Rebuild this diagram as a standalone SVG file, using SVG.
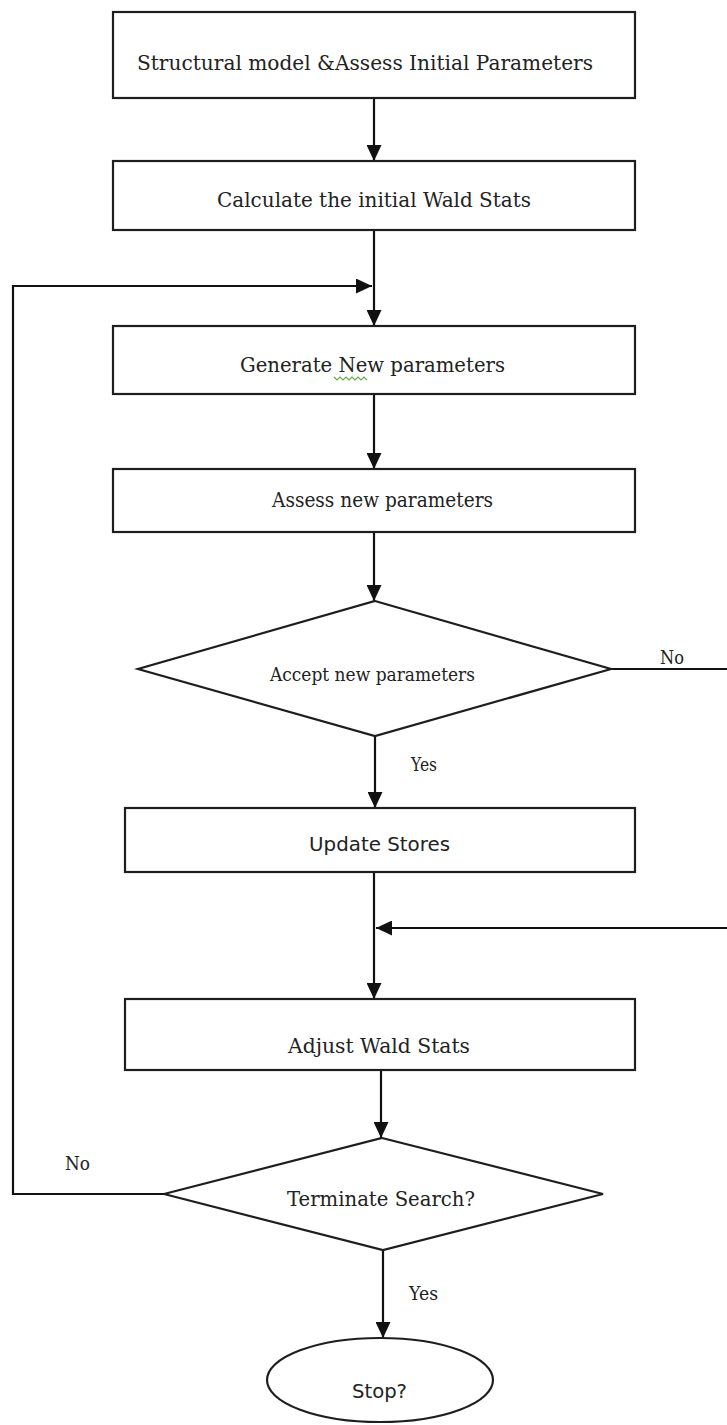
<svg xmlns="http://www.w3.org/2000/svg" width="727" height="1425" viewBox="0 0 727 1425">
<defs>
<style>
.box{fill:#fff;stroke:#1e1e1e;stroke-width:2.2}
.edge{fill:none;stroke:#111;stroke-width:2.2}
.t{font-family:"DejaVu Serif","Liberation Serif",serif;font-size:21px;fill:#222}
.s{font-family:"DejaVu Serif","Liberation Serif",serif;font-size:19px;fill:#222}
.u{font-family:"DejaVu Sans","Liberation Sans",sans-serif;font-size:20px;fill:#222}
</style>
<marker id="ah" viewBox="0 0 16 15" refX="16" refY="7.5" markerWidth="16" markerHeight="15" markerUnits="userSpaceOnUse" orient="auto">
<path d="M0,0 L16,7.5 L0,15 Z" fill="#111"/>
</marker>
</defs>
<rect width="727" height="1425" fill="#fff"/>
<g id="connectors">
<line class="edge" x1="374" y1="98" x2="374" y2="161" marker-end="url(#ah)"/>
<line class="edge" x1="374" y1="230" x2="374" y2="326" marker-end="url(#ah)"/>
<path class="edge" d="M164,1194 H13 V286 H372" marker-end="url(#ah)"/>
<line class="edge" x1="374" y1="394" x2="374" y2="469" marker-end="url(#ah)"/>
<line class="edge" x1="374" y1="532" x2="374" y2="601" marker-end="url(#ah)"/>
<path class="edge" d="M611,669 H745 V928 H376" marker-end="url(#ah)"/>
<line class="edge" x1="375" y1="736" x2="375" y2="808" marker-end="url(#ah)"/>
<line class="edge" x1="374" y1="872" x2="374" y2="999" marker-end="url(#ah)"/>
<line class="edge" x1="381" y1="1070" x2="381" y2="1138" marker-end="url(#ah)"/>
<line class="edge" x1="383" y1="1250" x2="383" y2="1338" marker-end="url(#ah)"/>
<text class="s" x="660" y="664" textLength="24" lengthAdjust="spacingAndGlyphs">No</text>
<text class="s" x="411" y="771" textLength="26" lengthAdjust="spacingAndGlyphs">Yes</text>
<text class="s" x="65" y="1170" textLength="25" lengthAdjust="spacingAndGlyphs">No</text>
<text class="s" x="409" y="1300" textLength="29" lengthAdjust="spacingAndGlyphs">Yes</text>
</g>
<g id="n1">
<rect class="box" x="113" y="12" width="522" height="86"/>
<text class="t" x="137" y="70" textLength="456" lengthAdjust="spacingAndGlyphs">Structural model  &amp;Assess Initial  Parameters</text>
</g>
<g id="n2">
<rect class="box" x="113" y="161" width="522" height="69"/>
<text class="t" x="217" y="207" textLength="314" lengthAdjust="spacingAndGlyphs">Calculate the initial Wald Stats</text>
</g>
<g id="n3">
<rect class="box" x="113" y="326" width="522" height="68"/>
<text class="t" x="240" y="372" textLength="265" lengthAdjust="spacingAndGlyphs">Generate New parameters</text>
<path d="M334,377 l3,3 l3,-3 l3,3 l3,-3 l3,3 l3,-3 l3,3 l3,-3 l3,3 l3,-3 l3,3" fill="none" stroke="#6aa84f" stroke-width="1.2"/>
</g>
<g id="n4">
<rect class="box" x="113" y="469" width="522" height="63"/>
<text class="t" x="272" y="507" textLength="221" lengthAdjust="spacingAndGlyphs">Assess new parameters</text>
</g>
<g id="n5">
<polygon class="box" points="375,601 611,669 375,736 138,669"/>
<text class="s" x="270" y="681" textLength="205" lengthAdjust="spacingAndGlyphs">Accept new parameters</text>
</g>
<g id="n6">
<rect class="box" x="125" y="808" width="510" height="64"/>
<text class="u" x="309" y="851" textLength="141" lengthAdjust="spacingAndGlyphs">Update Stores</text>
</g>
<g id="n7">
<rect class="box" x="125" y="999" width="510" height="71"/>
<text class="t" x="288" y="1053" textLength="182" lengthAdjust="spacingAndGlyphs">Adjust Wald  Stats</text>
</g>
<g id="n8">
<polygon class="box" points="382,1138 603,1194 383,1250 164,1194"/>
<text class="t" x="287" y="1206" textLength="188" lengthAdjust="spacingAndGlyphs">Terminate Search?</text>
</g>
<g id="n9">
<ellipse class="box" cx="380" cy="1380" rx="113" ry="42"/>
<text class="u" x="352" y="1398" textLength="55" lengthAdjust="spacingAndGlyphs">Stop?</text>
</g>
</svg>
